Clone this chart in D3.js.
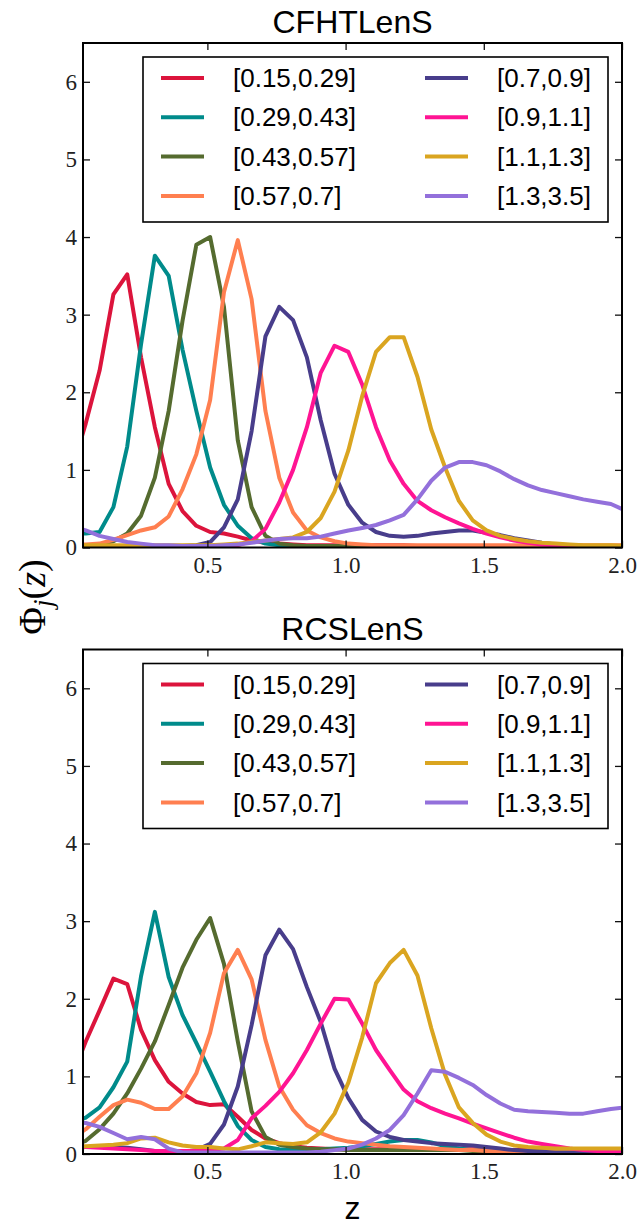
<!DOCTYPE html>
<html>
<head>
<meta charset="utf-8">
<script src="https://cdn.jsdelivr.net/npm/d3@7"></script>
<style>
  body { margin: 0; background: #fff; }
  .tick text { font-family: "Liberation Serif", "DejaVu Serif", serif; font-size: 23px; fill: #222; }
</style>
</head>
<body>
<div id="chart"></div>
<script>
// redshift grid (bin centres)
const zGrid = [0.01, 0.06, 0.11, 0.16, 0.21, 0.26, 0.31, 0.36, 0.41, 0.46,
  0.51, 0.56, 0.61, 0.66, 0.71, 0.76, 0.81, 0.86, 0.91, 0.96,
  1.01, 1.06, 1.11, 1.16, 1.21, 1.26, 1.31, 1.36, 1.41, 1.46,
  1.51, 1.56, 1.61, 1.66, 1.71, 1.76, 1.81, 1.86, 1.91, 1.96, 2.01];

const binLabels = ['[0.15,0.29]', '[0.29,0.43]', '[0.43,0.57]', '[0.57,0.7]',
  '[0.7,0.9]', '[0.9,1.1]', '[1.1,1.3]', '[1.3,3.5]'];
const binColors = ['#dc143c', '#008b8b', '#556b2f', '#ff7f50',
  '#483d8b', '#ff1493', '#daa520', '#9370db'];

const xTicks = [0.5, 1.0, 1.5, 2.0];
const yTicks = [0, 1, 2, 3, 4, 5, 6];

// CFHTLenS
const cfht1 = [1.0, 1.6, 2.28, 3.26, 3.52, 2.45, 1.55, 0.82, 0.47, 0.28,
  0.2, 0.18, 0.14, 0.09, 0.06, 0.05, 0.04, 0.03, 0.03, 0.03,
  0.03, 0.03, 0.03, 0.03, 0.03, 0.02, 0.02, 0.02, 0.02, 0.02,
  0.02, 0.02, 0.02, 0.02, 0.02, 0.02, 0.02, 0.02, 0.02, 0.02, 0.02];
const cfht2 = [0.18, 0.18, 0.2, 0.52, 1.3, 2.62, 3.76, 3.5, 2.55, 1.76,
  1.03, 0.55, 0.28, 0.12, 0.05, 0.03, 0.02, 0.02, 0.02, 0.02,
  0.02, 0.02, 0.02, 0.02, 0.02, 0.02, 0.02, 0.02, 0.02, 0.02,
  0.02, 0.02, 0.02, 0.02, 0.02, 0.02, 0.02, 0.02, 0.02, 0.02, 0.02];
const cfht3 = [0.01, 0.02, 0.04, 0.08, 0.18, 0.41, 0.9, 1.76, 2.92, 3.9,
  4.0, 3.1, 1.38, 0.52, 0.15, 0.05, 0.03, 0.02, 0.02, 0.02,
  0.02, 0.02, 0.02, 0.02, 0.02, 0.02, 0.02, 0.02, 0.02, 0.02,
  0.02, 0.02, 0.02, 0.02, 0.02, 0.02, 0.02, 0.02, 0.02, 0.02, 0.02];
const cfht4 = [0.04, 0.04, 0.05, 0.1, 0.16, 0.22, 0.26, 0.4, 0.75, 1.2,
  1.9, 3.29, 3.96, 3.2, 1.76, 0.9, 0.45, 0.22, 0.13, 0.08,
  0.05, 0.04, 0.03, 0.03, 0.03, 0.03, 0.03, 0.03, 0.03, 0.03,
  0.03, 0.03, 0.03, 0.03, 0.03, 0.03, 0.03, 0.03, 0.03, 0.03, 0.03];
const cfht5 = [0.02, 0.02, 0.02, 0.02, 0.02, 0.02, 0.02, 0.02, 0.02, 0.03,
  0.07, 0.26, 0.62, 1.5, 2.72, 3.1, 2.93, 2.45, 1.64, 0.95,
  0.55, 0.32, 0.2, 0.15, 0.14, 0.15, 0.18, 0.2, 0.22, 0.22,
  0.19, 0.16, 0.12, 0.09, 0.06, 0.04, 0.03, 0.02, 0.02, 0.01, 0.01];
const cfht6 = [0.02, 0.02, 0.02, 0.02, 0.02, 0.02, 0.02, 0.02, 0.02, 0.02,
  0.02, 0.02, 0.03, 0.08, 0.24, 0.58, 1.0, 1.55, 2.25, 2.6,
  2.52, 2.1, 1.55, 1.12, 0.82, 0.6, 0.48, 0.39, 0.31, 0.24,
  0.18, 0.13, 0.09, 0.06, 0.04, 0.03, 0.02, 0.02, 0.01, 0.01, 0.01];
const cfht7 = [0.03, 0.03, 0.03, 0.03, 0.03, 0.03, 0.03, 0.03, 0.03, 0.03,
  0.03, 0.04, 0.05, 0.07, 0.09, 0.11, 0.13, 0.2, 0.38, 0.72,
  1.25, 1.95, 2.52, 2.71, 2.71, 2.2, 1.52, 1.03, 0.6, 0.35,
  0.22, 0.15, 0.11, 0.08, 0.06, 0.05, 0.04, 0.03, 0.03, 0.03, 0.02];
const cfht8 = [0.28, 0.22, 0.15, 0.11, 0.07, 0.05, 0.03, 0.03, 0.02, 0.02,
  0.02, 0.03, 0.04, 0.06, 0.09, 0.11, 0.12, 0.12, 0.14, 0.18,
  0.22, 0.25, 0.29, 0.35, 0.42, 0.62, 0.86, 1.03, 1.1, 1.1,
  1.06, 0.98, 0.88, 0.8, 0.74, 0.7, 0.66, 0.62, 0.59, 0.56, 0.48];

// RCSLenS
const rcs1 = [1.0, 1.45, 1.85, 2.26, 2.19, 1.6, 1.21, 0.93, 0.78, 0.67,
  0.63, 0.64, 0.48, 0.31, 0.2, 0.14, 0.1, 0.08, 0.07, 0.06,
  0.06, 0.06, 0.06, 0.06, 0.06, 0.06, 0.06, 0.06, 0.06, 0.06,
  0.06, 0.05, 0.05, 0.05, 0.05, 0.05, 0.05, 0.05, 0.05, 0.05, 0.05];
const rcs2 = [0.4, 0.47, 0.6, 0.86, 1.19, 2.29, 3.12, 2.28, 1.79, 1.43,
  1.06, 0.68, 0.36, 0.18, 0.09, 0.06, 0.05, 0.05, 0.06, 0.07,
  0.08, 0.1, 0.13, 0.16, 0.18, 0.18, 0.15, 0.1, 0.07, 0.05,
  0.04, 0.03, 0.03, 0.03, 0.03, 0.03, 0.03, 0.03, 0.03, 0.03, 0.03];
const rcs3 = [0.1, 0.17, 0.32, 0.52, 0.78, 1.1, 1.45, 1.92, 2.4, 2.76,
  3.04, 2.45, 1.45, 0.55, 0.22, 0.12, 0.09, 0.07, 0.06, 0.06,
  0.05, 0.05, 0.05, 0.05, 0.05, 0.05, 0.05, 0.05, 0.05, 0.04,
  0.04, 0.04, 0.04, 0.04, 0.04, 0.04, 0.04, 0.04, 0.04, 0.04, 0.04];
const rcs4 = [0.2, 0.32, 0.48, 0.63, 0.7, 0.66, 0.58, 0.58, 0.74, 1.04,
  1.56, 2.33, 2.63, 2.25, 1.47, 0.87, 0.57, 0.37, 0.27, 0.2,
  0.16, 0.14, 0.12, 0.1, 0.09, 0.08, 0.07, 0.06, 0.05, 0.05,
  0.04, 0.04, 0.03, 0.03, 0.03, 0.03, 0.03, 0.03, 0.03, 0.03, 0.03];
const rcs5 = [0.08, 0.09, 0.09, 0.09, 0.08, 0.06, 0.04, 0.03, 0.03, 0.05,
  0.13, 0.38, 0.87, 1.66, 2.56, 2.89, 2.64, 2.15, 1.7, 1.1,
  0.72, 0.44, 0.29, 0.22, 0.18, 0.16, 0.14, 0.13, 0.12, 0.11,
  0.09, 0.07, 0.05, 0.04, 0.03, 0.02, 0.02, 0.02, 0.02, 0.02, 0.02];
const rcs6 = [0.09, 0.09, 0.08, 0.07, 0.06, 0.05, 0.04, 0.04, 0.04, 0.04,
  0.05, 0.07, 0.18, 0.46, 0.62, 0.8, 1.04, 1.34, 1.68, 2.0,
  1.99, 1.68, 1.34, 1.08, 0.83, 0.68, 0.59, 0.52, 0.46, 0.39,
  0.33, 0.27, 0.21, 0.16, 0.13, 0.1, 0.07, 0.05, 0.04, 0.04, 0.03];
const rcs7 = [0.1, 0.1, 0.11, 0.12, 0.14, 0.2, 0.21, 0.15, 0.11, 0.09,
  0.09, 0.07, 0.06, 0.1, 0.15, 0.14, 0.13, 0.15, 0.28, 0.52,
  0.92, 1.5, 2.2, 2.46, 2.63, 2.3, 1.62, 1.02, 0.6, 0.4,
  0.25, 0.16, 0.11, 0.09, 0.08, 0.07, 0.07, 0.07, 0.07, 0.07, 0.07];
const rcs8 = [0.42, 0.4, 0.35, 0.27, 0.19, 0.22, 0.19, 0.07, 0.02, 0.02,
  0.02, 0.02, 0.02, 0.02, 0.02, 0.02, 0.02, 0.02, 0.03, 0.05,
  0.07, 0.12, 0.2, 0.31, 0.5, 0.78, 1.08, 1.06, 0.98, 0.89,
  0.76, 0.65, 0.57, 0.55, 0.54, 0.53, 0.52, 0.52, 0.55, 0.58, 0.6];

const cfhtSeries = [cfht1, cfht2, cfht3, cfht4, cfht5, cfht6, cfht7, cfht8];
const rcsSeries = [rcs1, rcs2, rcs3, rcs4, rcs5, rcs6, rcs7, rcs8];

const width = 638, height = 1225;
const plotLeft = 83, plotRight = 622, plotH = 504.5;
const sans = '"Liberation Sans", Arial, Helvetica, sans-serif';

const svg = d3.select('div#chart').append('svg')
  .attr('width', width)
  .attr('height', height);

const x = d3.scaleLinear().domain([0.05, 2.0]).range([plotLeft, plotRight]);

function drawPanel(top, title, series, id) {
  const bottom = top + plotH;
  const y = d3.scaleLinear().domain([0, 6.5]).range([bottom, top]);
  const g = svg.append('g');

  g.append('clipPath').attr('id', 'clip-' + id)
    .append('rect')
    .attr('x', plotLeft).attr('y', top)
    .attr('width', plotRight - plotLeft).attr('height', plotH);

  const line = d3.line()
    .x((d, i) => x(zGrid[i]))
    .y(d => y(d));

  g.append('g').attr('clip-path', `url(#clip-${id})`)
    .selectAll('path')
    .data(series)
    .enter()
    .append('path')
    .attr('d', d => line(d))
    .attr('fill', 'none')
    .attr('stroke', (d, i) => binColors[i])
    .attr('stroke-width', 4)
    .attr('stroke-linejoin', 'round');

  // axes, ticks pointing inward
  g.append('g')
    .attr('transform', `translate(0,${bottom})`)
    .call(d3.axisBottom(x).tickValues(xTicks).tickFormat(d3.format('.1f'))
      .tickSize(-7).tickPadding(9));
  g.append('g')
    .attr('transform', `translate(0,${top})`)
    .call(d3.axisTop(x).tickValues(xTicks).tickFormat('').tickSize(-7));
  g.append('g')
    .attr('transform', `translate(${plotLeft},0)`)
    .call(d3.axisLeft(y).tickValues(yTicks).tickFormat(d3.format('d'))
      .tickSize(-7).tickPadding(6));
  g.append('g')
    .attr('transform', `translate(${plotRight},0)`)
    .call(d3.axisRight(y).tickValues(yTicks).tickFormat('').tickSize(-7));
  g.selectAll('.domain').remove();
  g.selectAll('.tick line').attr('stroke', '#111').attr('stroke-width', 1.3);

  g.append('rect')
    .attr('x', plotLeft).attr('y', top)
    .attr('width', plotRight - plotLeft).attr('height', plotH)
    .attr('fill', 'none').attr('stroke', '#000').attr('stroke-width', 2);

  g.append('text')
    .attr('x', (plotLeft + plotRight) / 2)
    .attr('y', top - 10)
    .attr('text-anchor', 'middle')
    .style('font-family', sans)
    .style('font-size', '32px')
    .text(title);

  // legend
  const lg = g.append('g').attr('transform', `translate(143,${top + 14})`);
  lg.append('rect')
    .attr('width', 465).attr('height', 165)
    .attr('fill', '#fff').attr('stroke', '#000').attr('stroke-width', 1.6);
  const items = lg.selectAll('g.item')
    .data(binLabels)
    .enter()
    .append('g')
    .attr('class', 'item')
    .attr('transform', (d, i) => `translate(${i < 4 ? 0 : 264},${21 + 39.3 * (i % 4)})`);
  items.append('line')
    .attr('x1', 18).attr('x2', 61)
    .attr('stroke', (d, i) => binColors[i])
    .attr('stroke-width', 4);
  items.append('text')
    .attr('x', 90)
    .attr('dy', '0.35em')
    .style('font-family', sans)
    .style('font-size', '26px')
    .text(d => d);
}

drawPanel(43, 'CFHTLenS', cfhtSeries, 'a');
drawPanel(649.5, 'RCSLenS', rcsSeries, 'b');

// y label
const yl = svg.append('text')
  .attr('transform', 'translate(45,597) rotate(-90)')
  .attr('text-anchor', 'middle')
  .style('font-family', '"Liberation Serif", "DejaVu Serif", serif')
  .style('font-size', '38px');
yl.append('tspan').text('\u03A6');
yl.append('tspan').attr('font-style', 'italic').attr('font-size', '27px').attr('dy', 7).text('j');
yl.append('tspan').attr('dy', -7).text('(');
yl.append('tspan').attr('font-style', 'italic').text('z');
yl.append('tspan').text(')');

// x label
svg.append('text')
  .attr('x', (plotLeft + plotRight) / 2)
  .attr('y', 1219)
  .attr('text-anchor', 'middle')
  .style('font-family', sans)
  .style('font-size', '32px')
  .text('z');
</script>
</body>
</html>
